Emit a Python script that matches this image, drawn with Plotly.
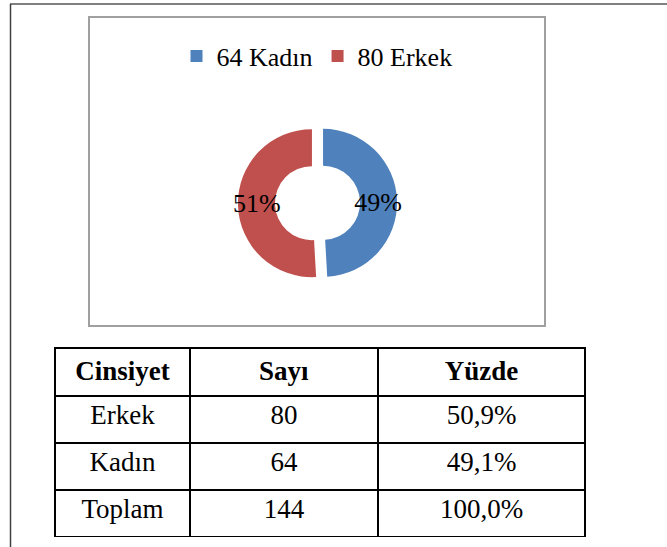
import plotly.graph_objects as go

# Donut data
pie_labels = ["64 Kadın", "80 Erkek"]
pie_values = [49.1, 50.9]
pie_colors = ["#4F81BD", "#C0504D"]

# Table data
table_header = ["Cinsiyet", "Sayı", "Yüzde"]
col_cinsiyet = ["Erkek", "Kadın", "Toplam"]
col_sayi = ["80", "64", "144"]
col_yuzde = ["50,9%", "49,1%", "100,0%"]

W, H = 667, 547
FONT = "Liberation Serif"

fig = go.Figure()

# donut geometry (pixels)
cx, cy = 317.5, 203
r_out = 74
pull = 0.075
half = r_out * (1 + pull)

fig.add_trace(go.Pie(
    labels=pie_labels,
    values=pie_values,
    marker=dict(colors=pie_colors, line=dict(width=0)),
    hole=0.5,
    pull=[pull, pull],
    sort=False,
    direction="clockwise",
    rotation=0,
    texttemplate="%{percent:.0%}",
    textposition="inside",
    insidetextorientation="horizontal",
    textfont=dict(family=FONT, size=26, color="black"),
    domain=dict(x=[(cx - half) / W, (cx + half) / W],
                y=[(H - cy - half) / H, (H - cy + half) / H]),
    showlegend=True,
    hoverinfo="label+percent",
))

# table geometry
tx0, tx1, ty0, ty1 = 55, 585, 348, 538
fig.add_trace(go.Table(
    domain=dict(x=[tx0 / W, tx1 / W], y=[(H - ty1) / H, (H - ty0) / H]),
    columnwidth=[135, 188, 207],
    header=dict(
        values=["<b>%s</b>" % h for h in table_header],
        align="center",
        height=48,
        line=dict(color="black", width=2),
        fill=dict(color="white"),
        font=dict(family=FONT, size=27, color="black"),
    ),
    cells=dict(
        values=[col_cinsiyet, col_sayi, col_yuzde],
        align="center",
        height=47,
        line=dict(color="black", width=2),
        fill=dict(color="white"),
        font=dict(family=FONT, size=27, color="black"),
    ),
))

shapes = [
    # page frame lines
    dict(type="line", xref="paper", yref="paper", x0=10 / W, x1=1, y0=(H - 4) / H, y1=(H - 4) / H,
         line=dict(color="#808080", width=2)),
    dict(type="line", xref="paper", yref="paper", x0=10.5 / W, x1=10.5 / W, y0=0, y1=(H - 4) / H,
         line=dict(color="#404040", width=1.5)),
    # chart box
    dict(type="rect", xref="paper", yref="paper", x0=89 / W, x1=545 / W, y0=(H - 326) / H, y1=(H - 17) / H,
         line=dict(color="#A0A0A0", width=2)),
]

fig.update_layout(
    width=W, height=H,
    margin=dict(l=0, r=0, t=0, b=0),
    paper_bgcolor="white",
    plot_bgcolor="white",
    font=dict(family=FONT, color="black"),
    shapes=shapes,
    uniformtext=dict(minsize=26, mode="show"),
    legend=dict(
        orientation="h",
        x=317 / W, xanchor="center",
        y=(H - 56) / H, yanchor="middle",
        font=dict(family=FONT, size=26, color="black"),
        bgcolor="rgba(0,0,0,0)",
        itemwidth=30,
    ),
)

fig.write_html("out.html", config={"displayModeBar": False},
               post_script="document.body.style.margin='0px';")
